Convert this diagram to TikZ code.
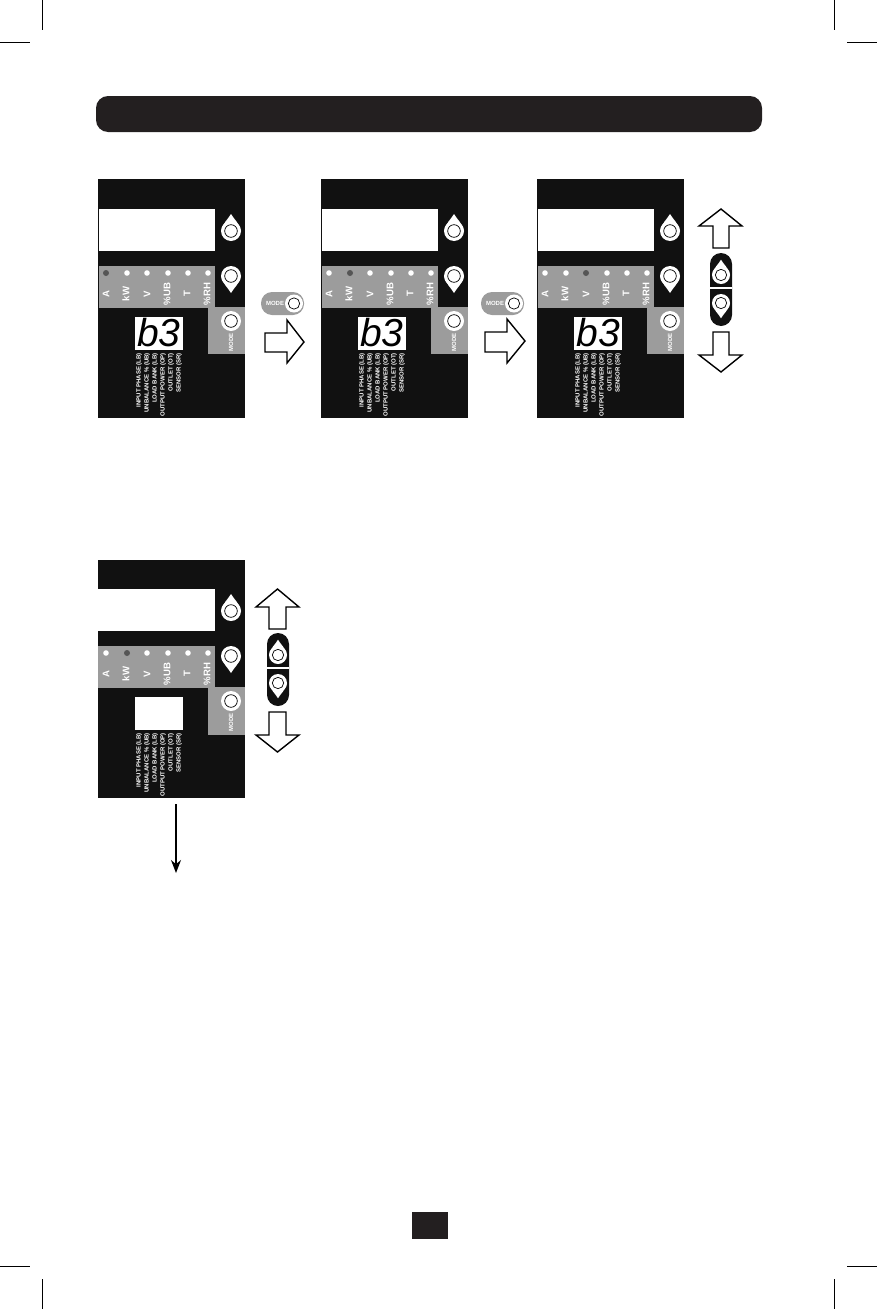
\documentclass[tikz,border=0pt]{standalone}
\usepackage{fontspec}
\setmainfont{Liberation Sans}
\usetikzlibrary{arrows.meta}
\definecolor{panelblack}{HTML}{111111}
\definecolor{barblack}{HTML}{231F20}
\definecolor{panelgray}{HTML}{9C9C9C}
\definecolor{ledlit}{HTML}{555555}

\begin{document}
\begin{tikzpicture}[x=1pt,y=-1pt,
    panel/.style={fill=panelblack},
    screen/.style={fill=white},
    strip/.style={fill=panelgray},
    crop/.style={draw=black,line width=0.8pt},
    block/.style={draw=black,fill=white,line width=1.4pt,line join=miter},
    led/.style={fill=white},
    lit/.style={fill=ledlit},
    ledname/.style={text=white,font=\bfseries\fontsize{9.6}{10}\selectfont,rotate=90,inner sep=0pt},
    codename/.style={text=white,font=\bfseries\fontsize{6}{6}\selectfont,rotate=90,anchor=east,inner sep=0pt},
    modename/.style={text=white,font=\bfseries\fontsize{6}{6}\selectfont,inner sep=0pt},
    segment/.style={text=black,font=\itshape\fontsize{39}{39}\selectfont,inner sep=0pt},
    modebtn/.pic={\fill[white] (0,0) circle (10pt); \draw[fill=white,line width=0.7pt] (0,0) circle (6.3pt);},
    updrop/.pic={\fill[white] (0,0) circle (10pt); \fill[white] (0,-17) .. controls (-2,-13) and (-9,-7) .. (-10,0) -- (10,0) .. controls (9,-7) and (2,-13) .. (0,-17) -- cycle; \draw[fill=white,line width=0.7pt] (0,0) circle (6.3pt);},
    downdrop/.pic={\fill[white] (0,0) circle (10pt); \fill[white] (0,17) .. controls (-2,13) and (-9,7) .. (-10,0) -- (10,0) .. controls (9,7) and (2,13) .. (0,17) -- cycle; \draw[fill=white,line width=0.7pt] (0,0) circle (6.3pt);}]
    \useasboundingbox (0,0) rectangle (877,1309);

% crop marks
    \coordinate (C11) at (42.5,0);
    \coordinate (C12) at (42.5,30);
    \coordinate (C13) at (0,42.5);
    \coordinate (C14) at (30,42.5);
    \coordinate (C21) at (834.5,0);
    \coordinate (C22) at (834.5,30);
    \coordinate (C23) at (877,42.5);
    \coordinate (C24) at (847,42.5);
    \coordinate (C31) at (42.5,1309);
    \coordinate (C32) at (42.5,1279);
    \coordinate (C33) at (0,1266.5);
    \coordinate (C34) at (30,1266.5);
    \coordinate (C41) at (834.5,1309);
    \coordinate (C42) at (834.5,1279);
    \coordinate (C43) at (877,1266.5);
    \coordinate (C44) at (847,1266.5);
    \draw[crop] (C11) -- (C12);
    \draw[crop] (C13) -- (C14);
    \draw[crop] (C21) -- (C22);
    \draw[crop] (C23) -- (C24);
    \draw[crop] (C31) -- (C32);
    \draw[crop] (C33) -- (C34);
    \draw[crop] (C41) -- (C42);
    \draw[crop] (C43) -- (C44);

% title bar and page box
    \fill[barblack,rounded corners=12pt] (96,96) rectangle (762,132);
    \fill[barblack] (412,1212) rectangle (448,1239);

% first panel
    \fill[panel] (98,179) rectangle (245,418);
    \fill[screen] (99,209) rectangle (215,251);
    \fill[strip] (99,266) rectangle (215,308);
    \fill[strip] (208,307) rectangle (245,354);
    \fill[lit] (106,273) circle (3pt);
    \fill[led] (127,273) circle (2.8pt);
    \fill[led] (147,273) circle (2.8pt);
    \fill[led] (168,273) circle (2.8pt);
    \fill[led] (188,273) circle (2.8pt);
    \fill[led] (208,273) circle (2.8pt);
    \node[ledname] (A1) at (106,294) {A};
    \node[ledname] (K1) at (126,294) {kW};
    \node[ledname] (V1) at (147,294) {V};
    \node[ledname] (U1) at (167,294) {\%UB};
    \node[ledname] (T1) at (187,294) {T};
    \node[ledname] (H1) at (207,294) {\%RH};
    \pic at (231,231) {updrop};
    \pic at (231,276) {downdrop};
    \pic at (231,321) {modebtn};
    \node[modename,rotate=90] (M1) at (231,342) {MODE};
    \fill[screen] (135,317) rectangle (183,350);
    \node[segment] (S1) at (159,333) {b3};
    \node[codename] (L11) at (139,353) {INPUT PHASE (LB)};
    \node[codename] (L12) at (147,353) {UNBALANCE \% (UB)};
    \node[codename] (L13) at (155,353) {LOAD BANK (LB)};
    \node[codename] (L14) at (163,353) {OUTPUT POWER (OP)};
    \node[codename] (L15) at (171,353) {OUTLET (OT)};
    \node[codename] (L16) at (179,353) {SENSOR (SR)};

% second panel
    \fill[panel] (321,179) rectangle (468,418);
    \fill[screen] (322,209) rectangle (438,251);
    \fill[strip] (322,266) rectangle (438,308);
    \fill[strip] (431,307) rectangle (468,354);
    \fill[led] (329,273) circle (2.8pt);
    \fill[lit] (350,273) circle (3pt);
    \fill[led] (370,273) circle (2.8pt);
    \fill[led] (391,273) circle (2.8pt);
    \fill[led] (411,273) circle (2.8pt);
    \fill[led] (431,273) circle (2.8pt);
    \node[ledname] (A2) at (329,294) {A};
    \node[ledname] (K2) at (349,294) {kW};
    \node[ledname] (V2) at (370,294) {V};
    \node[ledname] (U2) at (390,294) {\%UB};
    \node[ledname] (T2) at (410,294) {T};
    \node[ledname] (H2) at (430,294) {\%RH};
    \pic at (454,231) {updrop};
    \pic at (454,276) {downdrop};
    \pic at (454,321) {modebtn};
    \node[modename,rotate=90] (M2) at (454,342) {MODE};
    \fill[screen] (358,317) rectangle (406,350);
    \node[segment] (S2) at (382,333) {b3};
    \node[codename] (L21) at (362,353) {INPUT PHASE (LB)};
    \node[codename] (L22) at (370,353) {UNBALANCE \% (UB)};
    \node[codename] (L23) at (378,353) {LOAD BANK (LB)};
    \node[codename] (L24) at (386,353) {OUTPUT POWER (OP)};
    \node[codename] (L25) at (394,353) {OUTLET (OT)};
    \node[codename] (L26) at (402,353) {SENSOR (SR)};

% third panel
    \fill[panel] (537,179) rectangle (684,418);
    \fill[screen] (538,209) rectangle (654,251);
    \fill[strip] (538,266) rectangle (654,308);
    \fill[strip] (647,307) rectangle (684,354);
    \fill[led] (545,273) circle (2.8pt);
    \fill[led] (566,273) circle (2.8pt);
    \fill[lit] (586,273) circle (3pt);
    \fill[led] (607,273) circle (2.8pt);
    \fill[led] (627,273) circle (2.8pt);
    \fill[led] (647,273) circle (2.8pt);
    \node[ledname] (A3) at (545,294) {A};
    \node[ledname] (K3) at (565,294) {kW};
    \node[ledname] (V3) at (586,294) {V};
    \node[ledname] (U3) at (606,294) {\%UB};
    \node[ledname] (T3) at (626,294) {T};
    \node[ledname] (H3) at (646,294) {\%RH};
    \pic at (670,231) {updrop};
    \pic at (670,276) {downdrop};
    \pic at (670,321) {modebtn};
    \node[modename,rotate=90] (M3) at (670,342) {MODE};
    \fill[screen] (574,317) rectangle (622,350);
    \node[segment] (S3) at (598,333) {b3};
    \node[codename] (L31) at (578,353) {INPUT PHASE (LB)};
    \node[codename] (L32) at (586,353) {UNBALANCE \% (UB)};
    \node[codename] (L33) at (594,353) {LOAD BANK (LB)};
    \node[codename] (L34) at (602,353) {OUTPUT POWER (OP)};
    \node[codename] (L35) at (610,353) {OUTLET (OT)};
    \node[codename] (L36) at (618,353) {SENSOR (SR)};

% fourth panel
    \fill[panel] (98,560) rectangle (245,798);
    \fill[screen] (98,589) rectangle (215,631);
    \fill[strip] (98,646) rectangle (215,688);
    \fill[strip] (208,687) rectangle (245,735);
    \fill[led] (106,653) circle (2.8pt);
    \fill[lit] (127,653) circle (3pt);
    \fill[led] (147,653) circle (2.8pt);
    \fill[led] (168,653) circle (2.8pt);
    \fill[led] (188,653) circle (2.8pt);
    \fill[led] (208,653) circle (2.8pt);
    \node[ledname] (A4) at (106,674) {A};
    \node[ledname] (K4) at (126,674) {kW};
    \node[ledname] (V4) at (147,674) {V};
    \node[ledname] (U4) at (167,674) {\%UB};
    \node[ledname] (T4) at (187,674) {T};
    \node[ledname] (H4) at (207,674) {\%RH};
    \pic at (231,611) {updrop};
    \pic at (231,656) {downdrop};
    \pic at (231,701) {modebtn};
    \node[modename,rotate=90] (M4) at (231,722) {MODE};
    \fill[screen] (135,697) rectangle (183,730);
    \node[codename] (L41) at (139,733) {INPUT PHASE (LB)};
    \node[codename] (L42) at (147,733) {UNBALANCE \% (UB)};
    \node[codename] (L43) at (155,733) {LOAD BANK (LB)};
    \node[codename] (L44) at (163,733) {OUTPUT POWER (OP)};
    \node[codename] (L45) at (171,733) {OUTLET (OT)};
    \node[codename] (L46) at (179,733) {SENSOR (SR)};

% mode keys and right arrows
    \fill[strip,rounded corners=11pt] (261,292) rectangle (304,315);
    \node[modename] (N1) at (275,303.5) {MODE};
    \pic[scale=0.9] at (294,303.5) {modebtn};
    \draw[block] (265,333) -- (287,333) -- (287,320) -- (304,342) -- (287,363) -- (287,352) -- (265,352) -- cycle;
    \fill[strip,rounded corners=11pt] (481,292) rectangle (524,315);
    \node[modename] (N2) at (495,303.5) {MODE};
    \pic[scale=0.9] at (514,303.5) {modebtn};
    \draw[block] (485,332) -- (507,332) -- (507,319) -- (525,341) -- (507,363) -- (507,352) -- (485,352) -- cycle;

% up and down keys beside third panel
    \draw[block] (721,209) -- (742,226) -- (729,226) -- (729,248) -- (713,248) -- (713,226) -- (699,226) -- cycle;
    \fill[panel,rounded corners=11pt] (710,253) rectangle (732,326);
    \coordinate (G11) at (710,288);
    \coordinate (G12) at (732,288);
    \draw[white,line width=2pt] (G11) -- (G12);
    \pic[scale=0.9] at (721,275) {updrop};
    \pic[scale=0.9] at (721,303) {downdrop};
    \draw[block] (721,372) -- (742,355) -- (729,355) -- (729,332) -- (713,332) -- (713,355) -- (699,355) -- cycle;

% up and down keys beside fourth panel
    \draw[block] (277.5,589) -- (299,607) -- (286,607) -- (286,629) -- (269,629) -- (269,607) -- (256,607) -- cycle;
    \fill[panel,rounded corners=11pt] (267,633) rectangle (289,706);
    \coordinate (G21) at (267,668);
    \coordinate (G22) at (289,668);
    \draw[white,line width=2pt] (G21) -- (G22);
    \pic[scale=0.9] at (278,655) {updrop};
    \pic[scale=0.9] at (278,683) {downdrop};
    \draw[block] (277.5,752) -- (299,735) -- (286,735) -- (286,712) -- (269,712) -- (269,735) -- (256,735) -- cycle;

% arrow below fourth panel
    \coordinate (P1) at (176,804);
    \coordinate (P2) at (176,873);
    \draw[line width=1.2pt,-{Stealth[length=13pt,width=10pt]}] (P1) -- (P2);

\end{tikzpicture}
\end{document}
